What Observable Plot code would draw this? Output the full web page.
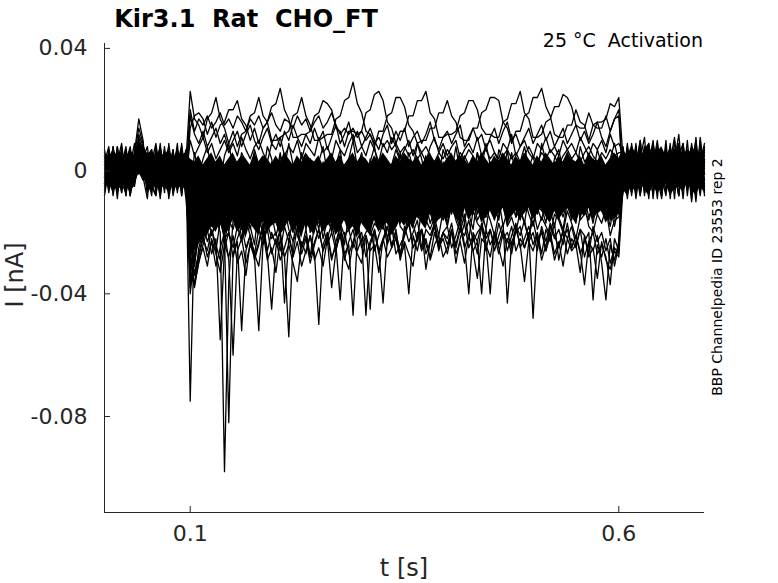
<!DOCTYPE html>
<html><head><meta charset="utf-8">
<script src="https://cdn.jsdelivr.net/npm/d3@7"></script>
<script src="https://cdn.jsdelivr.net/npm/@observablehq/plot@0.6"></script>
<style>
body{margin:0;background:#fff;}
#wrap{position:relative;width:778px;height:583px;}
#wrap svg{position:absolute;left:0;top:0;}
</style></head><body>
<div id="wrap"></div>
<script>
// sampling: one value every 5 ms from 0 to 0.7 s; values in pA (1e-3 nA)
const dt = 0.005;
const trace01 = [3,-5,6,-2,8,-6,1,5,14,9,-4,7,-7,2,-3,6,-5,4,-8,3,
26,17,15,11,17,19,24,17,14,9,
13,8,12,13,18,19,24,18,16,10,
10,11,12,13,18,19,24,18,15,10,
10,11,12,12,17,18,23,24,29,22,
19,13,12,8,13,13,18,19,24,24,
21,15,13,9,10,10,14,14,19,19,
23,18,16,11,10,10,14,14,19,20,
24,24,23,16,14,9,13,13,18,19,
24,24,27,21,18,12,11,11,15,15,
20,16,15,10,15,16,16,17,22,21,
24,
4,-6,9,-3,7,-8,2,10,-4,5,-7,3,11,-5,6,-2,8,-6,4,-3];
const trace02 = [-4,6,-1,7,-6,3,-8,4,11,6,2,-5,8,-3,5,-7,3,-2,7,-5,
14,18,19,17,12,16,11,15,16,20,
20,23,17,15,10,14,9,14,16,21,
22,27,20,17,11,11,12,12,13,18,
19,23,22,20,14,13,8,13,13,12,
13,19,20,25,26,23,16,14,9,13,
13,18,18,23,23,26,19,17,11,11,
12,12,13,18,19,23,23,20,14,12,
12,11,11,16,17,22,22,26,19,17,
11,11,12,16,17,21,21,25,24,21,
15,14,14,19,15,14,14,18,13,17,
18,
-5,7,-2,9,-6,4,-9,6,1,-4,8,-6,3,12,-3,5,-8,7,-1,6];
const trace03 = [7,-3,5,-7,2,8,-4,6,17,10,-6,4,-2,9,-5,1,7,-6,5,-1,
20,13,17,15,18,14,16,19,15,17,14,18,16,13,17,15,18,14,16,19,15,13,17,16,14,18,15,17,13,16,18,14,16,19,15,12,14,12,14,11,13,10,12,9,11,8,10,7,9,6,8,5,7,4,6,8,5,3,6,4,7,5,3,6,4,7,5,2,5,7,4,6,3,5,7,4,6,3,5,8,5,3,6,4,7,5,2,5,7,4,6,3,6,8,5,3,6,4,7,5,6,
6,-4,3,-8,10,-2,5,-5,8,-7,2,6,-4,9,-6,3,-3,11,-5,4];
const trace04 = [-2,5,-6,3,9,-4,6,-1,12,8,5,-3,7,-6,2,8,-4,6,-7,1,
-8,6,-1,4,8,0,3,-3,5,9,1,-2,6,3,-4,7,2,-1,8,4,-3,5,1,9,2,-2,6,0,4,-5,3,8,-1,5,2,7,-3,4,10,1,6,-2,3,8,0,5,-4,2,7,3,-1,6,1,9,4,-3,5,2,-2,7,3,0,8,-1,5,2,-4,6,1,9,2,-3,7,4,0,6,-2,3,8,1,5,-1,9,3,-3,4,7,0,6,2,-2,8,3,5,-1,7,2,-4,4,9,3,
-3,8,-5,2,10,-4,7,-9,3,6,-2,9,-6,4,-1,7,-8,5,2,-4];
const trace05 = [4,-7,2,-3,6,-1,-8,3,5,5,-5,6,-1,-8,4,-2,7,-5,3,-6,
-22,-8,-3,2,-6,1,-4,3,-7,0,4,-3,-8,2,-1,5,-5,0,-6,3,-2,6,-4,1,-7,2,-1,-5,4,0,-6,3,-2,-8,1,5,-3,0,-5,2,-1,-7,4,-2,1,-6,3,-4,0,6,-3,1,-7,2,-1,5,-4,0,-6,3,-2,4,-5,1,-8,2,-1,6,-3,0,3,-5,1,-2,7,-4,0,-6,2,-1,-5,4,-2,1,-7,3,-3,0,5,-4,1,-6,2,-1,4,-5,0,-3,3,-2,0,
7,-2,4,-9,1,6,-5,9,-3,2,-7,5,-1,8,-4,3,-10,6,-2,7];
const trace06 = [-3,4,-8,1,6,-5,3,-2,6,6,-7,2,5,-4,8,-9,0,4,-3,6,
-30,-14,-9,-2,-7,-3,-10,-1,-6,-12,-4,0,-8,-3,-11,-5,1,-7,-2,-9,-6,-1,-10,-4,2,-8,-3,-12,-5,0,-7,-2,-9,-4,-11,-1,-6,-3,-10,-5,0,-8,-2,-6,-12,-4,1,-7,-3,-9,-5,-1,-10,-4,-7,0,-8,-3,-11,-6,-2,-9,-4,1,-7,-3,-10,-5,0,-8,-3,-6,-11,-2,-7,-4,1,-9,-5,-1,-8,-3,-10,-6,-2,-9,-4,0,-7,-5,-11,-3,-8,-1,-6,-4,-10,-2,-7,-5,-3,
-6,3,-1,8,-7,5,0,-4,9,-8,4,-2,7,-5,1,6,-9,3,-4,8];
const trace07 = [6,-2,3,-9,5,1,-6,7,3,3,2,-5,-8,6,-3,4,-1,9,-6,0,
-36,-20,-12,-6,-10,-3,-9,-14,-5,-8,-11,-4,-9,-2,-7,-13,-6,-1,-10,-5,-8,-14,-3,-7,-11,-4,-9,-1,-6,-12,-5,-9,-2,-8,-13,-6,-3,-10,-7,-1,-9,-4,-12,-6,-2,-8,-11,-5,-7,-3,-10,-6,-1,-9,-4,-12,-7,-3,-8,-5,-11,-2,-7,-9,-4,-13,-6,-1,-8,-10,-3,-7,-5,-11,-2,-8,-6,-12,-4,-9,-1,-7,-10,-5,-3,-8,-12,-6,-2,-9,-4,-11,-7,-1,-8,-5,-10,-3,-7,-12,-6,
2,-8,6,-3,4,11,-6,1,-7,5,-2,8,-5,3,-9,6,0,-4,9,-7];
const trace08 = [-6,2,7,-4,-1,5,-8,2,1,4,6,-2,-6,3,-5,7,-8,1,5,-2,
-33,-24,-15,-9,-4,-13,-7,-11,-16,-6,-10,-3,-12,-8,-15,-5,-9,-13,-4,-11,-14,-7,-2,-10,-6,-13,-9,-16,-5,-8,-12,-4,-10,-15,-7,-3,-11,-8,-14,-6,-9,-13,-5,-11,-7,-15,-3,-10,-8,-12,-4,-9,-14,-6,-11,-2,-8,-13,-10,-5,-12,-7,-15,-4,-9,-11,-6,-14,-8,-3,-10,-13,-7,-5,-12,-9,-15,-6,-11,-4,-9,-14,-8,-3,-11,-6,-13,-10,-5,-12,-7,-15,-4,-9,-12,-8,-3,-11,-6,-13,-8,
-1,5,-7,3,-3,8,-6,2,10,-5,6,-3,1,-8,7,-2,4,-6,11,-1];
const trace09 = [1,-6,5,2,-7,6,4,-3,0,-2,-9,5,1,-4,7,-1,-6,3,8,-5,
-28,-31,-18,-12,-7,-15,-9,-13,-19,-10,-6,-14,-11,-17,-8,-12,-4,-15,-10,-13,-9,-16,-7,-12,-14,-5,-11,-18,-8,-13,-10,-6,-15,-12,-9,-17,-7,-13,-11,-4,-14,-10,-16,-8,-12,-6,-15,-11,-9,-17,-7,-13,-10,-15,-5,-12,-9,-16,-8,-11,-14,-6,-12,-10,-17,-8,-13,-5,-11,-15,-9,-12,-16,-7,-10,-14,-8,-13,-6,-11,-15,-9,-12,-17,-7,-11,-14,-8,-10,-16,-6,-12,-9,-15,-11,-7,-13,-10,-16,-8,-12,
4,-5,1,7,-8,3,-2,9,-5,0,7,-7,5,-2,8,-4,2,-10,6,-1];
const trace10 = [-5,3,-2,8,-4,-7,1,4,8,7,-1,-8,4,-2,6,2,-7,-3,1,7,
-38,-29,-22,-16,-10,-18,-12,-8,-15,-20,-11,-16,-9,-14,-19,-12,-7,-15,-17,-10,-13,-18,-11,-6,-16,-14,-9,-19,-12,-15,-17,-8,-13,-20,-11,-15,-9,-14,-18,-10,-12,-16,-7,-14,-19,-11,-13,-8,-17,-15,-10,-18,-12,-14,-9,-16,-13,-7,-15,-11,-17,-9,-13,-16,-10,-14,-19,-8,-12,-15,-11,-16,-9,-18,-13,-10,-15,-12,-17,-8,-14,-12,-16,-9,-13,-18,-11,-15,-10,-14,-17,-9,-13,-16,-11,-14,-8,-12,-18,-10,-14,
5,-9,3,-1,6,-6,9,-3,-7,4,1,-5,10,-2,-6,3,8,-1,-5,2];
const trace11 = [3,8,-4,1,-7,4,-2,-5,4,4,8,-3,2,-9,5,-4,3,7,-4,2,
-34,-37,-25,-20,-14,-21,-17,-12,-23,-16,-19,-13,-22,-15,-18,-24,-11,-17,-20,-14,-21,-16,-12,-19,-23,-15,-18,-10,-20,-17,-13,-22,-16,-19,-11,-18,-24,-14,-17,-20,-15,-12,-21,-17,-19,-13,-22,-16,-11,-18,-20,-14,-17,-23,-12,-16,-19,-15,-21,-13,-18,-11,-16,-20,-14,-22,-13,-17,-19,-12,-16,-21,-14,-11,-18,-15,-20,-13,-17,-22,-12,-19,-15,-18,-21,-14,-16,-20,-13,-17,-22,-15,-11,-18,-20,-14,-17,-12,-21,-16,-15,
-7,2,8,-4,3,-6,1,7,-2,-9,5,0,-4,7,-3,10,-6,1,-8,4];
const trace12 = [-8,1,6,-3,4,-7,2,9,-1,3,-4,1,6,-8,3,-1,5,-6,2,-9,
-26,-37,-30,-24,-19,-27,-22,-55,-25,-20,-28,-23,-52,-26,-21,-29,-24,-18,-27,-45,-25,-20,-28,-54,-23,-19,-27,-22,-30,-24,-19,-26,-21,-29,-23,-18,-27,-24,-47,-22,-20,-28,-23,-19,-26,-43,-22,-18,-27,-24,-21,-16,-25,-22,-19,-27,-23,-17,-24,-20,-18,-25,-21,-16,-24,-40,-20,-23,-17,-22,-19,-26,-21,-17,-43,-23,-20,-18,-25,-21,-16,-23,-20,-26,-18,-22,-19,-24,-17,-25,-21,-27,-23,-20,-42,-24,-28,-22,-30,-25,-27,
3,-6,6,-1,-8,5,-3,2,7,-6,-1,4,-9,6,2,-3,5,-7,3,9];
const trace13 = [5,-4,8,-1,-6,3,7,-2,2,5,1,7,-5,4,-7,9,-2,-5,6,3,
-30,-33,-27,-21,-28,-23,-31,-25,-20,-29,-60,-26,-22,-30,-24,-28,-52,-23,-19,-27,-22,-29,-25,-20,-28,-23,-31,-26,-21,-27,-50,-24,-20,-28,-25,-21,-29,-23,-19,-26,-22,-47,-24,-20,-27,-23,-18,-25,-22,-28,-24,-40,-21,-26,-19,-24,-28,-20,-25,-22,-27,-20,-24,-18,-25,-21,-26,-23,-40,-19,-24,-21,-27,-20,-23,-18,-26,-22,-25,-20,-48,-23,-19,-26,-21,-29,-24,-20,-27,-22,-25,-19,-28,-23,-26,-21,-30,-42,-24,-29,-23,
-4,9,-2,5,-7,1,8,-5,3,-3,10,-6,2,-1,6,-8,4,7,-3,1];
const trace14 = [-2,7,-5,4,1,-8,5,0,0,-3,6,-6,3,8,-2,-7,4,1,-4,6,
-20,-34,-28,-22,-26,-19,-24,-29,-21,-82,-27,-22,-18,-25,-21,-28,-23,-17,-26,-20,-24,-19,-43,-22,-27,-18,-25,-21,-28,-23,-19,-26,-22,-17,-24,-42,-20,-27,-23,-18,-25,-21,-45,-19,-26,-22,-18,-24,-20,-27,-21,-17,-25,-22,-19,-32,-23,-18,-26,-20,-24,-19,-30,-22,-17,-25,-21,-27,-18,-23,-40,-20,-24,-19,-26,-21,-17,-25,-22,-18,-24,-20,-27,-19,-23,-17,-29,-22,-19,-25,-21,-26,-37,-23,-20,-27,-24,-28,-37,-22,-26,
8,-3,-7,4,-2,6,-5,3,-9,7,-1,2,-6,5,9,-4,-2,6,-7,3];
const trace15 = [2,-6,4,6,-3,2,-7,5,7,6,-5,3,9,-1,-6,5,-3,7,-8,4,
-75,-18,-12,-6,-10,-4,-13,-8,-3,-11,-7,-14,-5,-9,-2,-12,-6,-10,-15,-4,-8,-11,-3,-13,-7,-9,-1,-12,-6,-10,-14,-5,-8,-11,-3,-9,-13,-7,-4,-10,-6,-12,-9,-2,-11,-7,-14,-5,-8,-10,-3,-9,-12,-6,-10,-4,-13,-8,-5,-11,-7,-14,-2,-9,-6,-12,-8,-4,-10,-13,-5,-8,-11,-3,-9,-14,-6,-10,-2,-7,-12,-5,-9,-13,-6,-10,-3,-11,-8,-4,-9,-13,-6,-10,-2,-8,-12,-5,-9,-11,-7,
-2,6,-4,1,8,-7,3,-1,5,-5,7,-9,4,-3,9,-2,6,-6,0,5];
const trace16 = [-7,4,-1,7,-5,3,8,-4,3,3,-2,6,-6,2,4,-8,6,-3,4,-2,
-24,-31,-18,-12,-17,-9,-15,-20,-98,-36,-16,-11,-19,-13,-8,-17,-14,-21,-10,-15,-12,-18,-9,-16,-20,-11,-14,-7,-17,-13,-19,-10,-15,-12,-18,-8,-16,-13,-11,-20,-9,-14,-17,-11,-15,-19,-10,-13,-16,-8,-15,-12,-18,-9,-14,-11,-17,-13,-10,-16,-12,-8,-15,-18,-11,-14,-9,-16,-13,-19,-10,-15,-12,-8,-17,-13,-11,-16,-9,-14,-18,-11,-13,-9,-16,-12,-15,-19,-10,-13,-8,-16,-14,-11,-17,-9,-13,-15,-12,-18,-11,
1,-7,5,-2,7,-4,2,9,-6,3,-4,7,-1,-8,5,-2,4,-5,10,-3];
const trace17 = [5,-3,8,-6,2,6,-2,4,9,6,-6,3,-1,7,-4,2,6,-7,3,-2,
18,12,9,13,8,11,14,9,12,7,
10,13,8,12,15,10,7,11,14,9,
12,8,13,10,15,11,8,12,9,14,
10,13,7,11,15,9,12,16,10,13,
8,11,14,10,7,12,15,9,13,10,
14,8,11,13,9,12,16,10,7,11,
13,9,12,15,8,11,14,10,12,7,
11,14,9,13,16,10,12,8,11,14,
9,12,15,10,13,8,11,14,9,12,
15,10,13,9,12,16,11,8,13,17,
20,
-3,7,-5,2,9,-6,4,-1,6,-8,3,8,-4,1,7,-5,2,10,-6,3];
const trace18 = [-1,6,-4,8,-3,5,-7,1,6,4,3,-6,7,-2,-5,6,1,-4,9,-3,
10,5,8,11,6,9,4,7,10,6,
9,5,11,7,4,8,10,6,3,9,
7,11,5,8,6,10,4,9,7,5,
11,6,8,4,10,7,5,9,12,6,
8,5,10,7,3,9,6,11,8,4,
7,10,5,9,6,3,8,11,6,9,
5,8,10,4,7,9,6,11,5,8,
10,6,4,9,7,12,5,8,10,6,
4,9,7,11,6,8,5,10,7,9,
6,11,8,5,9,7,10,6,12,8,
9,
6,-1,-6,5,-3,8,-2,-7,4,1,7,-5,3,-8,6,-2,9,-4,2,-6];
const trace19 = [2,-5,7,-3,6,-8,4,-1,5,3,-7,4,-2,8,-5,1,-6,7,-3,5,
-32,-38,-29,-25,-31,-22,-27,-33,-24,-28,
-21,-30,-26,-34,-23,-27,-31,-20,-29,-25,
-33,-22,-28,-24,-30,-36,-23,-27,-21,-29,
-25,-31,-22,-38,-26,-20,-28,-32,-23,-27,
-30,-21,-26,-24,-33,-22,-28,-25,-19,-29,
-23,-27,-31,-20,-26,-22,-29,-24,-21,-28,
-25,-19,-27,-23,-30,-21,-26,-35,-22,-24,
-28,-20,-25,-31,-22,-27,-19,-24,-36,-23,
-26,-21,-29,-24,-20,-27,-23,-31,-22,-26,
-24,-33,-21,-28,-25,-35,-23,-29,-32,-26,
-28,
-5,4,-8,6,-2,7,-6,1,9,-4,3,-7,5,-1,8,-6,2,-3,6,-8];
const trace20 = [-4,6,-2,-7,3,7,-5,2,4,1,5,-4,-8,3,6,-3,2,-6,7,-1,
-40,-27,-21,-17,-23,-19,-26,-16,-22,-20,
-25,-18,-23,-16,-21,-27,-19,-24,-17,-22,
-20,-26,-18,-23,-15,-21,-25,-19,-28,-17,
-22,-18,-24,-20,-26,-17,-21,-19,-25,-16,
-23,-20,-18,-26,-21,-17,-24,-19,-22,-28,
-18,-23,-20,-16,-25,-19,-21,-17,-24,-20,
-22,-17,-25,-19,-21,-16,-23,-20,-18,-26,
-19,-24,-17,-22,-20,-25,-18,-21,-16,-23,
-20,-26,-18,-23,-17,-21,-25,-19,-22,-18,
-24,-19,-21,-27,-18,-23,-20,-26,-22,-31,
-24,
6,-4,2,-7,5,-1,9,-5,3,-2,-8,4,7,-3,1,-6,8,-2,5,-5];

// dense overlapping core of the bundle (where the traces merge into solid black), pA
const coreHigh = [6,4,7,5,6,3,7,5,10,8,5,7,4,6,5,7,4,6,5,6,
4,3,5,2,4,6,3,5,2,4,
6,3,5,4,2,6,3,5,4,2,
5,3,6,4,2,5,3,6,4,3,
5,2,4,6,3,5,2,4,6,3,
5,4,2,5,3,6,4,2,5,3,
6,4,3,5,2,4,6,3,5,2,
4,6,3,5,4,2,5,3,6,4,
2,5,3,6,4,2,5,3,6,4,
2,5,3,6,4,2,5,3,6,4,
3,5,2,6,4,3,5,2,4,6,
4,
7,5,8,6,4,7,9,5,6,8,5,7,6,9,5,7,6,8,5,7];
const coreLow = [-6,-4,-7,-5,-6,-4,-7,-5,0,-2,-5,-7,-4,-6,-5,-7,-4,-6,-5,-6,
-28,-26,-24,-22,-21,-18,-20,-17,-21,-19,
-16,-20,-18,-22,-17,-19,-21,-16,-20,-18,
-17,-21,-19,-16,-20,-18,-22,-17,-19,-21,
-16,-20,-18,-17,-21,-19,-16,-20,-18,-22,
-17,-19,-21,-16,-20,-18,-17,-21,-19,-16,
-18,-16,-19,-15,-17,-19,-14,-18,-16,-15,
-16,-13,-15,-17,-12,-16,-14,-12,-17,-15,
-13,-16,-14,-12,-17,-15,-13,-16,-14,-12,
-16,-14,-12,-15,-17,-13,-16,-14,-12,-15,
-17,-13,-15,-12,-16,-14,-13,-17,-15,-16,
-14,
-6,-8,-5,-7,-4,-6,-8,-5,-7,-6,-4,-8,-6,-5,-7,-4,-6,-8,-5,-7];

const traces = [trace01,trace02,trace03,trace04,trace05,trace06,trace07,trace08,trace09,trace10,
                trace11,trace12,trace13,trace14,trace15,trace16,trace17,trace18,trace19,trace20];

const xDomain = [0, 0.7];
const yDomain = [-0.1113, 0.0416];
const xTicks = [0.1, 0.6];
const yTicks = [-0.08, -0.04, 0, 0.04];

const titleText = "Kir3.1  Rat  CHO_FT";
const subtitleText = "25 \u00B0C  Activation";
const sideText = "BBP Channelpedia ID 23553 rep 2";
const xLabel = "t [s]";
const yLabel = "I [nA]";

const rows = [];
traces.forEach((vals, k) => vals.forEach((v, i) => rows.push({t: i * dt, I: v / 1000, trace: k})));
const coreRows = coreHigh.map((h, i) => ({t: i * dt, hi: h / 1000, lo: coreLow[i] / 1000}));

const axisColor = "#262626";
const font = "DejaVu Sans, sans-serif";
const keepSpaces = s => s.replace(/  /g, "\u00A0 ");

const chart = Plot.plot({
  width: 778, height: 583,
  marginLeft: 104, marginRight: 74, marginTop: 43, marginBottom: 71,
  x: {domain: xDomain},
  y: {domain: yDomain},
  style: {fontFamily: font, fontSize: "22px", color: axisColor, background: "white", overflow: "visible"},
  marks: [
    Plot.areaY(coreRows, {x: "t", y1: "lo", y2: "hi", fill: "black"}),
    Plot.lineY(rows, {x: "t", y: "I", z: "trace", stroke: "black", strokeWidth: 1.3}),
    Plot.ruleX([xDomain[0]], {stroke: axisColor, strokeWidth: 1}),
    Plot.ruleY([yDomain[0]], {stroke: axisColor, strokeWidth: 1}),
    Plot.axisX(xTicks, {anchor: "bottom", tickSize: -6, text: null, stroke: axisColor, label: null}),
    Plot.axisX(xTicks, {anchor: "bottom", tickSize: 0, tickPadding: 13, tickFormat: d => String(d), fill: axisColor, label: null}),
    Plot.axisY(yTicks, {anchor: "left", tickSize: -6, text: null, stroke: axisColor, label: null}),
    Plot.axisY(yTicks, {anchor: "left", tickSize: 0, tickPadding: 17, tickFormat: d => String(d), fill: axisColor, label: null})
  ]
});
document.getElementById("wrap").appendChild(chart);

// overlay texts
const ov = d3.select("#wrap").append("svg").attr("width", 778).attr("height", 583)
  .style("font-family", font).style("pointer-events", "none");
ov.append("text").attr("x", 246).attr("y", 27).attr("text-anchor", "middle")
  .attr("font-size", 24).attr("font-weight", "bold").attr("fill", "#000").text(keepSpaces(titleText));
ov.append("text").attr("x", 703).attr("y", 47).attr("text-anchor", "end")
  .attr("font-size", 19).attr("fill", "#000").text(keepSpaces(subtitleText));
ov.append("text").attr("transform", "translate(722,277) rotate(-90)").attr("text-anchor", "middle")
  .attr("font-size", 14).attr("fill", "#000").text(sideText);
ov.append("text").attr("transform", "translate(23,275) rotate(-90)").attr("text-anchor", "middle")
  .attr("font-size", 24).attr("fill", axisColor).text(yLabel);
ov.append("text").attr("x", 404).attr("y", 576).attr("text-anchor", "middle")
  .attr("font-size", 24).attr("fill", axisColor).text(xLabel);
</script>
</body></html>
